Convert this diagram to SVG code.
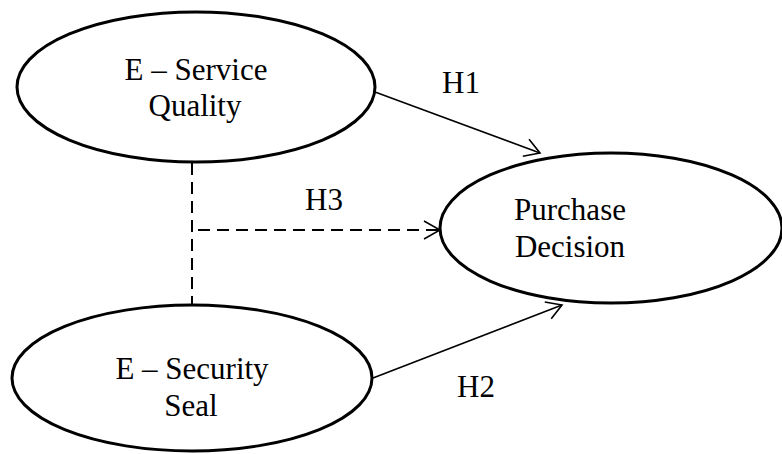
<svg xmlns="http://www.w3.org/2000/svg" width="782" height="454" viewBox="0 0 782 454">
  <style>
    .node { fill: #ffffff; stroke: #000000; stroke-width: 3; }
    .label { font-family: "Liberation Serif", "DejaVu Serif", serif; font-size: 31px; fill: #000000; text-anchor: middle; }
    .edge { fill: none; stroke: #000000; stroke-width: 1.5; }
    .dashed { stroke-width: 2; stroke-dasharray: 12 7; }
  </style>
  <defs>
    <marker id="open-arrow" markerUnits="userSpaceOnUse" markerWidth="20" markerHeight="22" viewBox="-17 -11 19 22" refX="0" refY="0" orient="auto">
      <path d="M-15,-9 L0,0 L-15,9" fill="none" stroke="#000000" stroke-width="1.6"/>
    </marker>
  </defs>

  <g id="connectors">
    <line class="edge" x1="375" y1="92" x2="540" y2="153" marker-end="url(#open-arrow)"/>
    <line class="edge" x1="373" y1="378" x2="562" y2="305" marker-end="url(#open-arrow)"/>
    <line class="edge dashed" x1="192" y1="163" x2="192" y2="305"/>
    <line class="edge dashed" x1="192" y1="230" x2="439" y2="230" stroke-dashoffset="-6"/>
    <polyline class="edge" points="424,221 440,230 424,239" stroke-width="1.8"/>
    <text class="label" x="461" y="93">H1</text>
    <text class="label" x="324" y="210">H3</text>
    <text class="label" x="476" y="397">H2</text>
  </g>

  <g id="e-service-quality">
    <ellipse class="node" cx="196" cy="87" rx="179" ry="75"/>
    <text class="label" x="196" y="80">E – Service</text>
    <text class="label" x="195" y="116">Quality</text>
  </g>

  <g id="purchase-decision">
    <ellipse class="node" cx="611" cy="228" rx="171" ry="75"/>
    <text class="label" x="570" y="220">Purchase</text>
    <text class="label" x="570" y="257">Decision</text>
  </g>

  <g id="e-security-seal">
    <ellipse class="node" cx="192" cy="378" rx="180" ry="73"/>
    <text class="label" x="192" y="379">E – Security</text>
    <text class="label" x="191" y="416">Seal</text>
  </g>
</svg>
